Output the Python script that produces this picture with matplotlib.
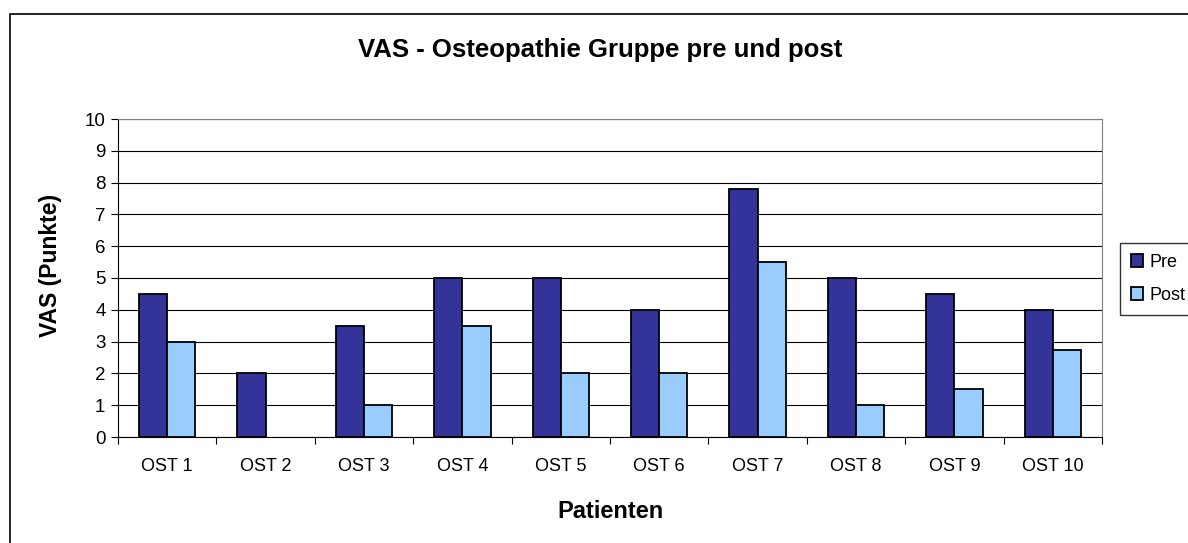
import matplotlib.pyplot as plt
import numpy as np
from matplotlib.patches import Rectangle

# Chart data
patients = ['OST 1', 'OST 2', 'OST 3', 'OST 4', 'OST 5',
            'OST 6', 'OST 7', 'OST 8', 'OST 9', 'OST 10']
pre = [4.5, 2, 3.5, 5, 5, 4, 7.8, 5, 4.5, 4]
post = [3, 0, 1, 3.5, 2, 2, 5.5, 1, 1.5, 2.75]

plt.rcParams['font.family'] = ['Liberation Sans', 'DejaVu Sans']

W, H = 1188, 543
fig = plt.figure(figsize=(W / 100, H / 100), dpi=100)

# Plot area in pixel coordinates
left, right, top, bottom = 118, 1102, 119, 437
ax = fig.add_axes([left / W, 1 - bottom / H, (right - left) / W, (bottom - top) / H])

x = np.arange(len(patients))
width = 1 / 3.5
ax.bar(x - width / 2, pre, width, color='#333399', edgecolor='black', linewidth=1.3, label='Pre', zorder=3)
# zero-height bars get no outline, like in the original
post_lw = [1.3 if v > 0 else 0 for v in post]
ax.bar(x + width / 2, post, width, color='#99CCFF', edgecolor='black', linewidth=post_lw, label='Post', zorder=3)

ax.set_xlim(-0.5, len(patients) - 0.5)
ax.set_ylim(0, 10)
ax.set_yticks(range(0, 11))
ax.yaxis.grid(True, color='black', linewidth=0.8, zorder=0)
ax.set_axisbelow(True)

# Category labels sit between tick marks
ax.set_xticks(np.arange(-0.5, len(patients), 1))
ax.set_xticklabels([])
ax.set_xticks(x, minor=True)
ax.set_xticklabels(patients, minor=True)
ax.tick_params(axis='x', which='minor', length=0, pad=15, labelsize=13)
ax.tick_params(axis='x', which='major', length=5, direction='out', color='black')
ax.tick_params(axis='y', length=5, direction='out', labelsize=13.5, pad=4)

for side in ['top', 'right']:
    ax.spines[side].set_color('#808080')
ax.spines['left'].set_color('black')
ax.spines['bottom'].set_color('black')

# Titles placed at their pixel positions
fig.text(600 / W, 1 - 50 / H, 'VAS - Osteopathie Gruppe pre und post',
         fontsize=18.5, fontweight='bold', ha='center', va='center')
fig.text(610 / W, 1 - 511 / H, 'Patienten', fontsize=17, fontweight='bold', ha='center', va='center')
fig.text(50 / W, 1 - 265 / H, 'VAS (Punkte)', fontsize=16.5, fontweight='bold',
         ha='center', va='center', rotation=90)

fig.legend(loc='upper left', bbox_to_anchor=(1120 / W, 1 - 243 / H),
           frameon=True, fancybox=False, edgecolor='black', fontsize=13,
           handlelength=0.7, handleheight=0.7, handletextpad=0.35,
           borderaxespad=0, labelspacing=0.9, borderpad=0.6)

# Outer chart border
fig.patches.append(Rectangle((10 / W, -0.1), 2, 1 - 14 / H + 0.1, transform=fig.transFigure,
                             fill=False, edgecolor='black', linewidth=1.2))

fig.savefig('out.png', dpi=100)
